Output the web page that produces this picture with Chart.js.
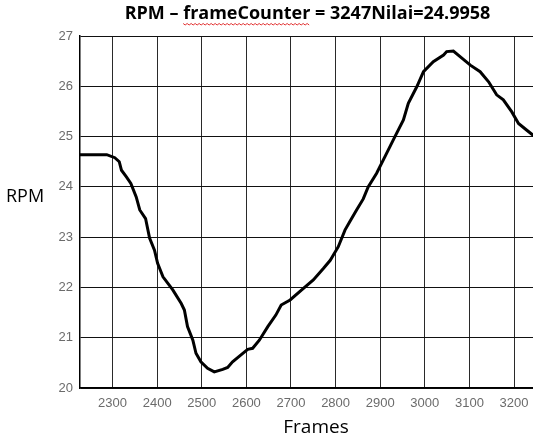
<!DOCTYPE html>
<html>
<head>
<meta charset="utf-8">
<script src="https://cdn.jsdelivr.net/npm/chart.js@4/dist/chart.umd.min.js"></script>
<style>
  html, body { margin: 0; padding: 0; background: #fff; overflow: hidden; }
  canvas { display: block; }
</style>
</head>
<body>
<canvas id="c" width="540" height="442"></canvas>
<script>
// ---- data ----
const titleText = 'RPM \u2013 frameCounter = 3247Nilai=24.9958';
const xTitle = 'Frames';
const yTitle = 'RPM';
const frames = [2227, 2287, 2305, 2315, 2320, 2331, 2341, 2353, 2361, 2374, 2383, 2394, 2401, 2413, 2435, 2454, 2461, 2468, 2480, 2487, 2498, 2513, 2528, 2547, 2558, 2569, 2592, 2603, 2614, 2629, 2648, 2666, 2678, 2698, 2724, 2750, 2773, 2788, 2806, 2821, 2832, 2847, 2862, 2873, 2892, 2914, 2933, 2952, 2963, 2982, 2997, 3019, 3042, 3049, 3064, 3079, 3102, 3124, 3143, 3161, 3176, 3195, 3210, 3228, 3247];
const rpm = [24.64, 24.64, 24.58, 24.50, 24.33, 24.20, 24.07, 23.80, 23.54, 23.37, 22.98, 22.74, 22.48, 22.21, 21.95, 21.68, 21.55, 21.22, 20.95, 20.69, 20.52, 20.39, 20.32, 20.37, 20.41, 20.52, 20.69, 20.77, 20.79, 20.95, 21.22, 21.45, 21.65, 21.75, 21.95, 22.15, 22.38, 22.54, 22.81, 23.14, 23.31, 23.54, 23.76, 24.00, 24.27, 24.66, 25.00, 25.33, 25.66, 25.99, 26.29, 26.49, 26.62, 26.69, 26.70, 26.59, 26.42, 26.29, 26.09, 25.83, 25.73, 25.49, 25.26, 25.13, 24.9958];
const xTicks = [2300, 2400, 2500, 2600, 2700, 2800, 2900, 3000, 3100, 3200];
const yTicks = [20, 21, 22, 23, 24, 25, 26, 27];
const xRange = [2227, 3247];
const yRange = [20, 27];

const points = frames.map((f, i) => ({ x: f, y: rpm[i] }));

const extraText = {
  id: 'extraText',
  afterDraw(chart) {
    const ctx = chart.ctx;
    ctx.save();
    ctx.fillStyle = '#000';
    ctx.font = '18px "Open Sans"';
    ctx.textBaseline = 'middle';
    // horizontal y-axis label
    ctx.textAlign = 'left';
    ctx.fillText(yTitle, 6, 197);
    // x-axis label
    ctx.textAlign = 'center';
    ctx.font = '19px "Open Sans"';
    ctx.fillText(xTitle, 316, 428);
    // red wavy spell-check underline below "frameCounter" in the title
    const t = chart.titleBlock;
    ctx.font = 'bold 18px "Open Sans"';
    const full = ctx.measureText(titleText).width;
    const startX = (t.left + t.right) / 2 - full / 2;
    const pre = ctx.measureText('RPM \u2013 ').width;
    const w = ctx.measureText('frameCounter').width;
    const x0 = startX + pre, x1 = x0 + w, y0 = 24;
    ctx.strokeStyle = '#e03030';
    ctx.lineWidth = 1;
    ctx.beginPath();
    for (let x = x0, k = 0; x <= x1; x += 2, k++) {
      const y = y0 + (k % 2 ? 1 : -0.5);
      if (k === 0) ctx.moveTo(x, y); else ctx.lineTo(x, y);
    }
    ctx.stroke();
    ctx.restore();
  }
};

new Chart(document.getElementById('c'), {
  type: 'line',
  data: {
    datasets: [{
      data: points,
      borderColor: '#000',
      borderWidth: 3,
      pointRadius: 0,
      tension: 0,
      fill: false
    }]
  },
  options: {
    responsive: false,
    animation: false,
    devicePixelRatio: 1,
    layout: { padding: { left: 0, right: 5, top: 0, bottom: 0 } },
    plugins: {
      legend: { display: false },
      tooltip: { enabled: false },
      title: {
        display: true,
        fullSize: false,
        text: titleText,
        color: '#000',
        font: { family: 'Open Sans', size: 18, weight: 'bold', lineHeight: 1.2 },
        padding: { top: 3, bottom: 11.4 }
      }
    },
    scales: {
      x: {
        type: 'linear',
        min: xRange[0],
        max: xRange[1],
        afterBuildTicks: s => { s.ticks = xTicks.map(v => ({ value: v })); },
        afterFit: s => { s.height = 54; },
        ticks: {
          autoSkip: false,
          maxRotation: 0,
          padding: 8,
          color: '#6b6b6b',
          font: { family: 'Liberation Sans', size: 13 },
          callback: v => String(v)
        },
        grid: { color: '#2a2a2a', lineWidth: 1, drawTicks: false },
        border: { color: '#000', width: 1.5 }
      },
      y: {
        type: 'linear',
        min: yRange[0],
        max: yRange[1],
        afterBuildTicks: s => { s.ticks = yTicks.map(v => ({ value: v })); },
        afterFit: s => { s.width = 80; },
        ticks: {
          padding: 7,
          color: '#6b6b6b',
          font: { family: 'Liberation Sans', size: 13 },
          callback: v => String(v)
        },
        grid: { color: '#111', lineWidth: 1, drawTicks: false },
        border: { color: '#000', width: 1.5 }
      }
    }
  },
  plugins: [extraText]
});
</script>
</body>
</html>
